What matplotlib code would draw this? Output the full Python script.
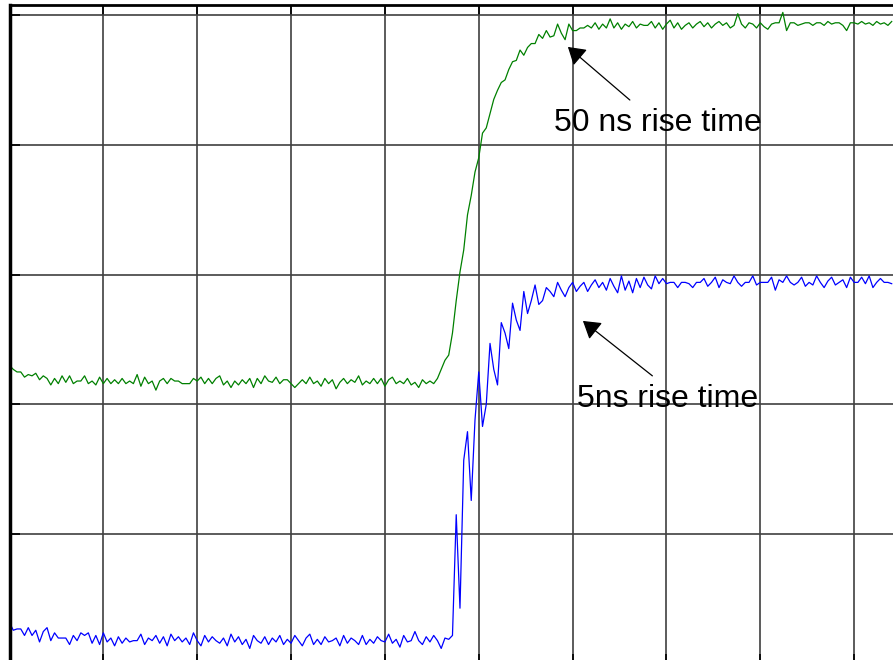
import numpy as np
import matplotlib.pyplot as plt

plt.rcParams['font.family'] = ['Liberation Sans', 'DejaVu Sans']

# sample spacing in screen divisions
dt = 0.04

# 50 ns rise time trace (green), values in divisions
green = [
    2.30, 2.27, 2.25, 2.25, 2.21, 2.23, 2.22, 2.24, 2.19, 2.22,
    2.20, 2.15, 2.20, 2.16, 2.22, 2.17, 2.22, 2.16, 2.18, 2.18,
    2.22, 2.16, 2.18, 2.15, 2.21, 2.16, 2.20, 2.16, 2.19, 2.16,
    2.20, 2.16, 2.18, 2.16, 2.23, 2.14, 2.21, 2.16, 2.18, 2.11,
    2.18, 2.20, 2.16, 2.20, 2.18, 2.18, 2.16, 2.16, 2.16, 2.20,
    2.18, 2.21, 2.16, 2.20, 2.16, 2.20, 2.22, 2.15, 2.18, 2.13,
    2.18, 2.15, 2.19, 2.16, 2.20, 2.13, 2.20, 2.16, 2.22, 2.18,
    2.17, 2.21, 2.16, 2.19, 2.19, 2.16, 2.13, 2.16, 2.19, 2.16,
    2.21, 2.16, 2.18, 2.14, 2.20, 2.16, 2.19, 2.12, 2.17, 2.20,
    2.16, 2.19, 2.17, 2.22, 2.15, 2.18, 2.16, 2.20, 2.16, 2.20,
    2.14, 2.19, 2.21, 2.16, 2.18, 2.16, 2.20, 2.15, 2.17, 2.13,
    2.19, 2.16, 2.18, 2.16,
    # rise
    2.20, 2.27, 2.34, 2.38, 2.55, 2.80, 3.02, 3.19, 3.46, 3.61,
    3.79, 3.90, 4.09, 4.13, 4.24, 4.35, 4.42, 4.48, 4.50, 4.58,
    4.64, 4.65, 4.73, 4.69, 4.75, 4.78, 4.78, 4.85, 4.82, 4.88,
    4.83, 4.84, 4.93, 4.86, 4.81, 4.93, 4.88, 4.88, 4.90,
    # top
    4.90, 4.92, 4.90, 4.94, 4.89, 4.93, 4.90, 4.97, 4.90, 4.94,
    4.89, 4.93, 4.91, 4.95, 4.90, 4.93, 4.92, 4.92, 4.95, 4.90,
    4.94, 4.89, 4.93, 4.96, 4.90, 4.94, 4.89, 4.92, 4.94, 4.90,
    4.93, 4.95, 4.91, 4.94, 4.90, 4.93, 4.95, 4.92, 4.94, 4.90,
    4.92, 5.01, 4.93, 4.90, 4.94, 4.93, 4.90, 4.94, 4.91, 4.89,
    4.93, 4.94, 4.94, 5.02, 4.88, 4.94, 4.94, 4.92, 4.93, 4.94,
    4.94, 4.92, 4.94, 4.94, 4.92, 4.95, 4.93, 4.94, 4.94, 4.92,
    4.88, 4.94, 4.94, 4.93, 4.95, 4.93, 4.94, 4.92, 4.95, 4.93,
    4.94, 4.92, 4.95,
]

# 5 ns rise time trace (blue)
blue = [
    0.32, 0.26, 0.27, 0.27, 0.22, 0.28, 0.22, 0.26, 0.17, 0.25,
    0.28, 0.18, 0.24, 0.20, 0.20, 0.20, 0.15, 0.22, 0.18, 0.24,
    0.22, 0.24, 0.16, 0.22, 0.15, 0.24, 0.17, 0.20, 0.14, 0.21,
    0.16, 0.20, 0.17, 0.18, 0.18, 0.23, 0.15, 0.20, 0.18, 0.22,
    0.16, 0.21, 0.14, 0.23, 0.18, 0.21, 0.17, 0.20, 0.15, 0.24,
    0.18, 0.14, 0.22, 0.17, 0.21, 0.18, 0.16, 0.20, 0.14, 0.23,
    0.17, 0.21, 0.15, 0.19, 0.12, 0.22, 0.18, 0.16, 0.21, 0.15,
    0.20, 0.17, 0.22, 0.15, 0.19, 0.16, 0.22, 0.18, 0.14, 0.20,
    0.23, 0.15, 0.19, 0.15, 0.21, 0.17, 0.18, 0.20, 0.14, 0.22,
    0.16, 0.20, 0.18, 0.15, 0.22, 0.15, 0.19, 0.16, 0.21, 0.18,
    0.17, 0.23, 0.16, 0.19, 0.13, 0.22, 0.17, 0.18, 0.25, 0.18,
    0.15, 0.21, 0.17, 0.22, 0.18, 0.12, 0.20, 0.19,
    # rise with ringing
    0.22, 1.15, 0.43, 1.57, 1.79, 1.26, 1.88, 2.25, 1.83, 2.00,
    2.47, 2.27, 2.15, 2.63, 2.55, 2.43, 2.78, 2.65, 2.57, 2.87,
    2.70, 2.80, 2.92, 2.77, 2.80, 2.90, 2.87, 2.83, 2.94, 2.88,
    2.83, 2.90, 2.94, 2.87, 2.91, 2.94, 2.87,
    # top
    2.92, 2.96, 2.90, 2.94, 2.88, 2.97, 2.91, 2.86, 2.99, 2.88,
    2.95, 2.86, 2.97, 2.90, 2.98, 2.92, 2.89, 2.99, 2.93, 2.97,
    2.93, 2.94, 2.94, 2.90, 2.94, 2.94, 2.93, 2.90, 2.94, 2.94,
    2.97, 2.91, 2.94, 2.98, 2.90, 2.96, 2.94, 2.93, 2.99, 2.94,
    2.91, 2.94, 2.94, 2.99, 2.92, 2.94, 2.94, 2.94, 2.98, 2.88,
    2.96, 2.94, 2.99, 2.94, 2.92, 2.94, 2.98, 2.91, 2.94, 2.92,
    2.99, 2.94, 2.90, 2.95, 2.98, 2.92, 2.94, 2.96, 2.90, 2.98,
    2.94, 2.94, 2.98, 2.93, 2.99, 2.90, 2.94, 2.97, 2.94, 2.94, 2.93,
]

labels = ['50 ns rise time', '5ns rise time']
label_pos = [(5.80, 4.11), (6.05, 1.98)]
arrow_tail = [(6.61, 4.345), (6.85, 2.22)]
arrow_head = [(5.95, 4.754), (6.11, 2.643)]

W, H = 893, 660
fig = plt.figure(figsize=(W / 100, H / 100), dpi=100)
# the screen runs past the picture on the right and at the bottom
div_w, div_h = 93.85, 129.8
ax = fig.add_axes([9.5 / W, (H - 664) / H, 10 * div_w / W, 5.077 * div_h / H])

t_g = np.arange(len(green)) * dt
t_b = np.arange(len(blue)) * dt
ax.plot(t_g, green, color='#008000', lw=0.9)
ax.plot(t_b, blue, color='#0000ff', lw=0.9)

ax.set_xlim(0, 10)
ax.set_ylim(0, 5.077)
ax.set_xticks(range(0, 11))
ax.set_yticks(range(0, 6))
ax.grid(True, color='#404040', lw=1.2)
ax.set_axisbelow(True)
ax.tick_params(direction='in', length=7, width=1.2, color='black',
               top=True, right=True, labelbottom=False, labelleft=False)
ax.spines['left'].set_linewidth(2.5)
ax.spines['top'].set_linewidth(2)

for lab, (x, y) in zip(labels, label_pos):
    ax.text(x, y, lab, fontsize=23, va='baseline', ha='left', color='black')

for tail, head in zip(arrow_tail, arrow_head):
    ax.annotate('', xy=head, xytext=tail,
                arrowprops=dict(arrowstyle='-|>,head_length=0.4,head_width=0.25',
                                mutation_scale=26, color='black', lw=0.9,
                                shrinkA=0, shrinkB=0))

fig.savefig('out.png', dpi=100)
